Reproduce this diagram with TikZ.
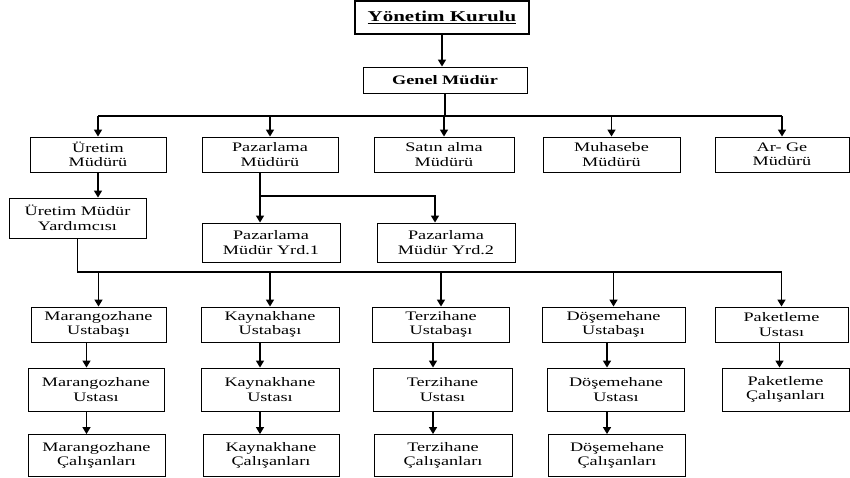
\documentclass[tikz,border=0pt]{standalone}
\usepackage{fontspec}
\setmainfont[FakeStretch=1.4]{Liberation Serif}
\usepackage{tikz}
\usetikzlibrary{arrows.meta, positioning, calc}

\begin{document}
\begin{tikzpicture}[
  x=1pt, y=-1pt,
  unit/.style={rectangle, draw=black, line width=0.9pt, align=center,
               inner sep=1pt, font=\fontsize{13}{14.5}\selectfont},
  arrow/.style={-{Triangle[length=7pt, width=8pt]}, line width=1.5pt},
  link/.style={line width=1.5pt},
]
\useasboundingbox (0,0) rectangle (850,477);

% Top
\node[unit, line width=1.2pt, minimum width=174pt, minimum height=33pt,
      font=\bfseries\fontsize{15}{17}\selectfont] (yk) at (442,17.5) {\underline{Yönetim Kurulu}};
\node[unit, minimum width=164pt, minimum height=26pt,
      font=\bfseries\fontsize{13}{15}\selectfont] (gm) at (445,80) {Genel Müdür};

% Managers
\node[unit, minimum width=136pt, minimum height=35pt] (um) at (98,154.5)  {Üretim\\Müdürü};
\node[unit, minimum width=136pt, minimum height=35pt] (pm) at (270,154.5) {Pazarlama\\Müdürü};
\node[unit, minimum width=140pt, minimum height=35pt] (sm) at (444,154.5) {Satın alma\\Müdürü};
\node[unit, minimum width=137pt, minimum height=35pt] (mm) at (611.5,154.5) {Muhasebe\\Müdürü};
\node[unit, minimum width=134pt, minimum height=35pt] (am) at (782,154.5) {Ar- Ge\\Müdürü};

% Assistants
\node[unit, minimum width=137pt, minimum height=40pt] (umy) at (77.5,218) {Üretim Müdür\\Yardımcısı};
\node[unit, minimum width=138pt, minimum height=39pt] (py1) at (271,242.5) {Pazarlama\\Müdür Yrd.1};
\node[unit, minimum width=138pt, minimum height=39pt] (py2) at (446,242.5) {Pazarlama\\Müdür Yrd.2};

% Workshops
\node[unit, minimum width=135pt, minimum height=35pt] (mu1) at (98.5,324.5) {Marangozhane\\Ustabaşı};
\node[unit, minimum width=138pt, minimum height=35pt] (ku1) at (270,324.5)  {Kaynakhane\\Ustabaşı};
\node[unit, minimum width=137pt, minimum height=35pt] (tu1) at (441,324.5)  {Terzihane\\Ustabaşı};
\node[unit, minimum width=143pt, minimum height=35pt] (du1) at (613.5,324.5) {Döşemehane\\Ustabaşı};
\node[unit, minimum width=133pt, minimum height=35pt] (pu1) at (781.5,324.5) {Paketleme\\Ustası};

\node[unit, minimum width=136pt, minimum height=43pt] (mu2) at (96,389.5)  {Marangozhane\\Ustası};
\node[unit, minimum width=138pt, minimum height=43pt] (ku2) at (270,389.5) {Kaynakhane\\Ustası};
\node[unit, minimum width=139pt, minimum height=43pt] (tu2) at (442.5,389.5) {Terzihane\\Ustası};
\node[unit, minimum width=137pt, minimum height=43pt] (du2) at (616,389.5) {Döşemehane\\Ustası};
\node[unit, minimum width=127pt, minimum height=43pt] (pu2) at (785.5,389.5) {Paketleme\\Çalışanları};

\node[unit, minimum width=137pt, minimum height=42pt] (mu3) at (96.5,455.5) {Marangozhane\\Çalışanları};
\node[unit, minimum width=136pt, minimum height=42pt] (ku3) at (271,455.5)  {Kaynakhane\\Çalışanları};
\node[unit, minimum width=138pt, minimum height=42pt] (tu3) at (443,455.5)  {Terzihane\\Çalışanları};
\node[unit, minimum width=137pt, minimum height=42pt] (du3) at (617,455.5)  {Döşemehane\\Çalışanları};

% Buses
\coordinate (bus1) at (0,116);
\coordinate (pbus) at (0,196);
\coordinate (bus2) at (0,272);

% Arrows from the top
\draw[arrow] (yk.south) -- (yk.south |- gm.north);
\draw[link] (gm.south) -- (gm.south |- bus1);
\draw[link] (um.north |- bus1) -- (am.north |- bus1);
\foreach \n in {um,pm,sm,mm,am}
  \draw[arrow] (\n.north |- bus1) -- (\n.north);

% Assistants
\draw[arrow] (um.south) -- (um.south |- umy.north);
\draw[arrow] ([xshift=-10pt]pm.south) -- ([xshift=-11pt]py1.north);
\draw[arrow] ([xshift=-10pt]pm.south |- pbus) -| ([xshift=-11pt]py2.north);

% Arrows to workshops
\draw[link] (umy.south) -- (umy.south |- bus2) -- (pu1.north |- bus2);
\foreach \n in {mu1,ku1,tu1,du1,pu1}
  \draw[arrow] (\n.north |- bus2) -- (\n.north);

\foreach \c/\s in {mu/-12,ku/-10,tu/-8,du/-6.5} {
  \draw[arrow] ([xshift=\s pt]\c1.south) -- ([xshift=\s pt]\c1.south |- \c2.north);
  \draw[arrow] ([xshift=\s pt]\c1.south |- \c2.south) -- ([xshift=\s pt]\c1.south |- \c3.north);
}
\draw[arrow] ([xshift=-2pt]pu1.south) -- ([xshift=-2pt]pu1.south |- pu2.north);
\end{tikzpicture}
\end{document}
